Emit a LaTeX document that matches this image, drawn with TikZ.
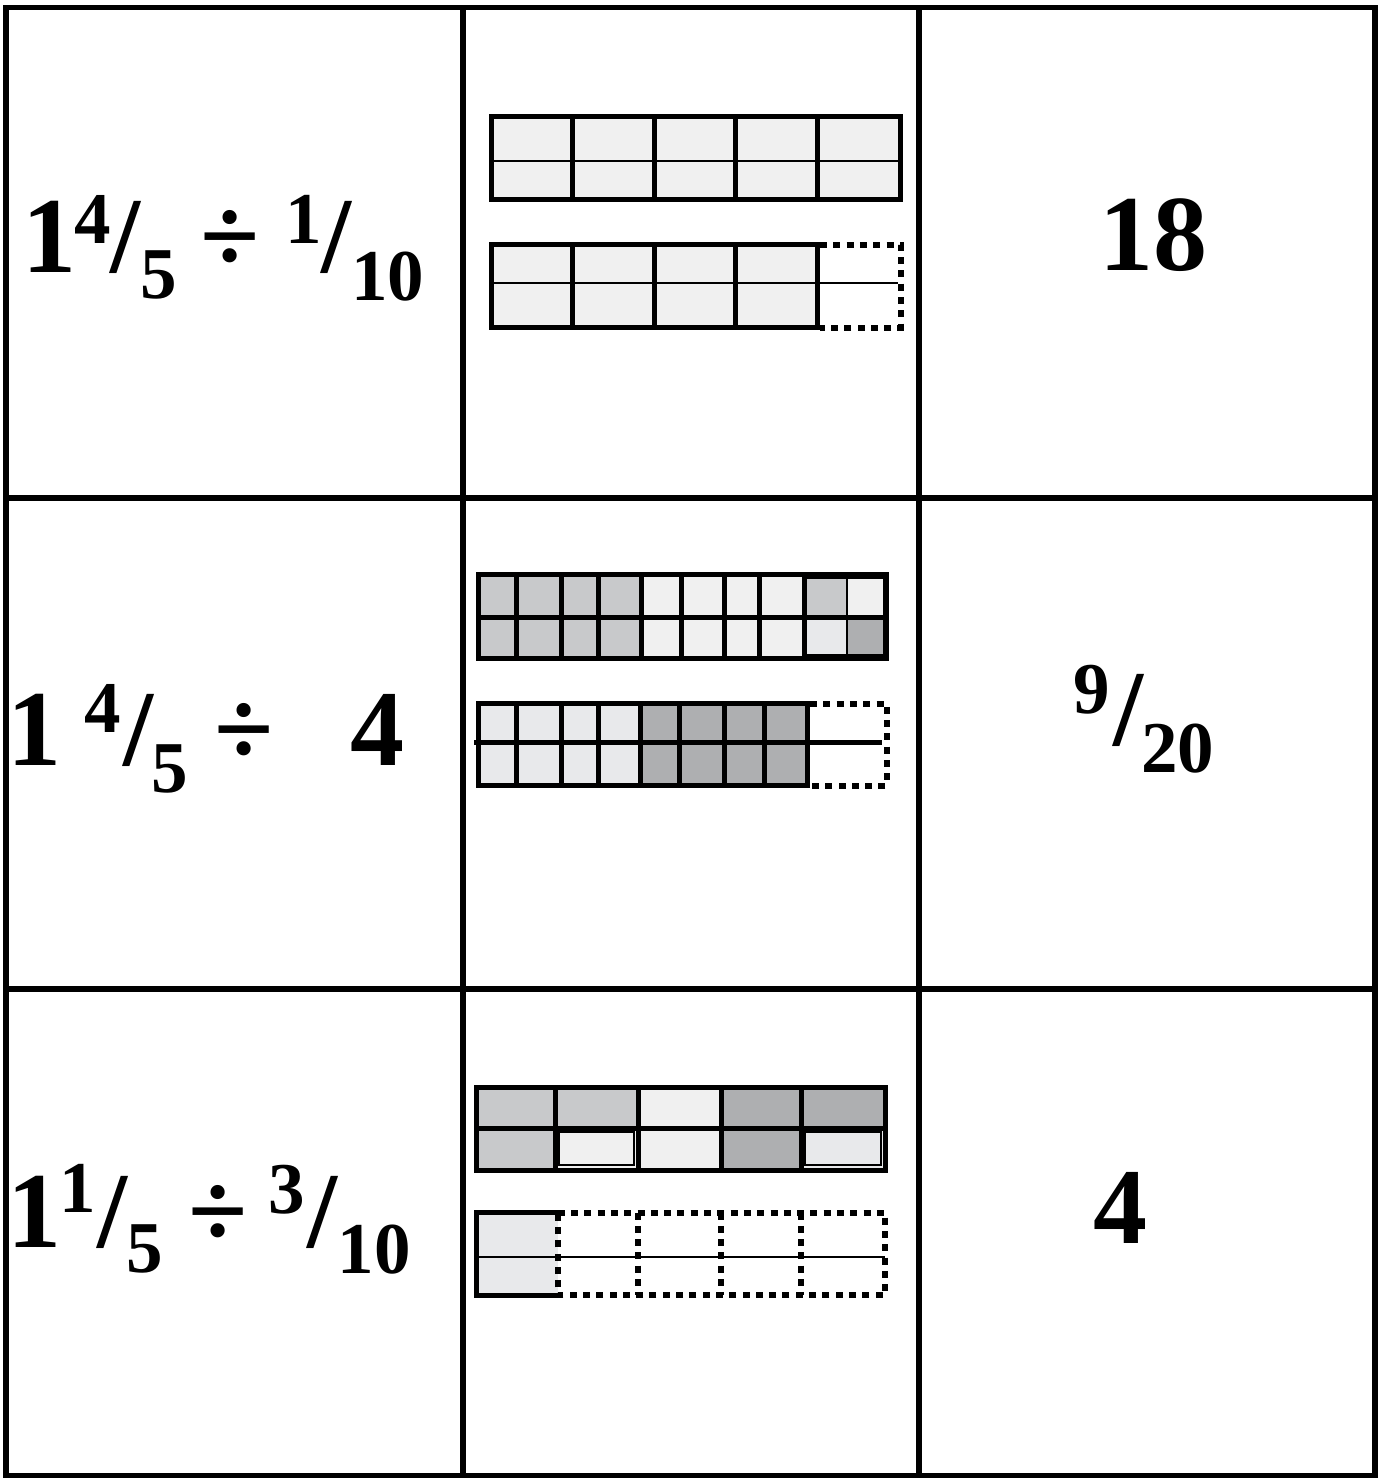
\documentclass[tikz,border=0pt]{standalone}
\usepackage{fontspec}
\setmainfont{Liberation Serif}
\definecolor{lg}{HTML}{F0F0F0}
\definecolor{mg}{HTML}{C8C9CB}
\definecolor{dg}{HTML}{AEAFB1}
\definecolor{pg}{HTML}{E8E9EB}
\tikzset{
  gridline/.style={line width=5.5pt,line cap=rect},
  border/.style={line width=5pt,line cap=rect},
  divider/.style={line width=5pt},
  thinline/.style={line width=2pt},
  dotline/.style={line width=6pt,dash pattern=on 7pt off 6.3pt},
  big/.style={inner sep=0pt,anchor=base,font=\fontsize{108}{108}\selectfont\bfseries},
  small/.style={inner sep=0pt,anchor=base,font=\fontsize{73}{73}\selectfont\bfseries},
}
\begin{document}
\begin{tikzpicture}[x=1pt,y=-1pt]
\useasboundingbox (0,0) rectangle (1381,1478);
% grid
\foreach \gx in {6,463,919,1375} \draw[gridline] (\gx,7.5) -- (\gx,1476);
\foreach \gy in {7.5,498,989,1476} \draw[gridline] (6,\gy) -- (1375,\gy);

% ---------- row 1 text ----------
\node[big]   (r1a) at (49,272) {1};
\node[small] (r1b) at (92.5,243) {4};
\node[big]   (r1c) at (126,272) {/};
\node[small] (r1d) at (159,298) {5};
\node[big]   (r1e) at (230,272) {÷};
\node[small] (r1f) at (303.5,243) {1};
\node[big]   (r1g) at (336,272) {/};
\node[small] (r1h) at (387.5,300) {10};
\node[big]   (r1r) at (1153.5,270) {18};

% ---------- row 2 text ----------
\node[big]   (r2a) at (35,765) {1};
\node[small] (r2b) at (103,732) {4};
\node[big]   (r2c) at (139,765) {/};
\node[small] (r2d) at (170,792) {5};
\node[big]   (r2e) at (244,765) {÷};
\node[big]   (r2f) at (377.5,765) {4};
\node[small] (r2r1) at (1092,713) {9};
\node[big]   (r2r2) at (1128,745) {/};
\node[small] (r2r3) at (1177.5,772) {20};

% ---------- row 3 text ----------
\node[big]   (r3a) at (35,1247) {1};
\node[small] (r3b) at (77.5,1212) {1};
\node[big]   (r3c) at (112.5,1247) {/};
\node[small] (r3d) at (145,1272) {5};
\node[big]   (r3e) at (218,1247) {÷};
\node[small] (r3f) at (287,1213) {3};
\node[big]   (r3g) at (322.5,1247) {/};
\node[small] (r3h) at (374,1273) {10};
\node[big]   (r3r) at (1120,1243) {4};

% ---------- row 1 bars ----------
\fill[lg] (491.5,116.5) rectangle (900.5,199.5);
\draw[thinline] (491.5,160.7) -- (900.5,160.7);
\foreach \dx in {572,654,735,817} \draw[divider] (\dx,116.5) -- (\dx,199.5);
\draw[border] (491.5,116.5) rectangle (900.5,199.5);

\fill[lg] (491.5,244.5) rectangle (817,327.5);
\draw[thinline] (491.5,282.7) -- (898,282.7);
\foreach \dx in {572,654,735,817} \draw[divider] (\dx,244.5) -- (\dx,327.5);
\draw[border] (817,244.5) -- (491.5,244.5) -- (491.5,327.5) -- (817,327.5);
\draw[dotline] (820,244.5) -- (900.5,244.5) -- (900.5,327.5) -- (820,327.5);

% ---------- row 2 bars ----------
\fill[mg] (478.5,574.5) rectangle (641,658.5);
\fill[lg] (641,574.5) rectangle (804,658.5);
\fill[mg] (804,574.5) rectangle (847,617.7);
\fill[pg] (804,617.7) rectangle (847,658.5);
\fill[lg] (847,574.5) rectangle (886.5,617.7);
\fill[dg] (847,617.7) rectangle (886.5,658.5);
\draw[divider] (478.5,617.7) -- (886.5,617.7);
\foreach \dx in {516,561,598,641,681,724,759,804} \draw[divider] (\dx,574.5) -- (\dx,658.5);
\draw[thinline] (847,574.5) -- (847,658.5);
\draw[thinline] (806,578) rectangle (884,655);
\draw[border] (478.5,574.5) rectangle (886.5,658.5);

\fill[pg] (478.5,703.5) rectangle (640.7,785.5);
\fill[dg] (640.7,703.5) rectangle (807,785.5);
\draw[divider] (474,742.7) -- (881.7,742.7);
\foreach \dx in {516.7,561.7,598.3,640.7,679.3,724,764,807} \draw[divider] (\dx,703.5) -- (\dx,785.5);
\draw[border] (807,703.5) -- (478.5,703.5) -- (478.5,785.5) -- (807,785.5);
\draw[dotline] (810,703.5) -- (886.5,703.5) -- (886.5,785.5) -- (810,785.5);

% ---------- row 3 bars ----------
\fill[mg] (476,1087) rectangle (638.3,1128.3);
\fill[lg] (638.3,1087) rectangle (721,1128.3);
\fill[dg] (721,1087) rectangle (885,1128.3);
\fill[mg] (476,1128.3) rectangle (555.7,1170);
\fill[lg] (555.7,1128.3) rectangle (721,1170);
\fill[dg] (721,1128.3) rectangle (801.7,1170);
\fill[pg] (801.7,1128.3) rectangle (885,1170);
\draw[divider] (476,1128.3) -- (885,1128.3);
\foreach \dx in {555.7,638.3,721,801.7} \draw[divider] (\dx,1087) -- (\dx,1170);
\draw[thinline] (558.5,1131.5) rectangle (633.5,1165);
\draw[thinline] (804.5,1131.5) rectangle (880.5,1165);
\draw[border] (476,1087) rectangle (885,1170);

\fill[pg] (476,1212.5) rectangle (557.7,1295);
\draw[thinline] (476,1256.7) -- (885,1256.7);
\draw[border] (557.7,1212.5) -- (476,1212.5) -- (476,1295) -- (557.7,1295);
\draw[dotline] (557.7,1212.5) -- (885,1212.5) -- (885,1295) -- (557.7,1295) -- cycle;
\foreach \dx in {638.3,721,801} \draw[dotline] (\dx,1212.5) -- (\dx,1295);
\end{tikzpicture}
\end{document}
